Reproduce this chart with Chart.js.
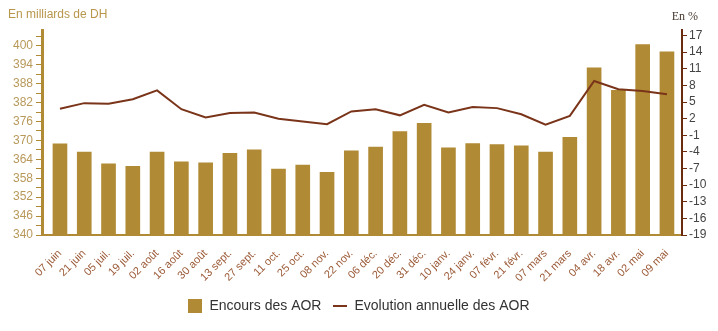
<!DOCTYPE html>
<html>
<head>
<meta charset="utf-8">
<script src="https://cdn.jsdelivr.net/npm/chart.js@4"></script>
<style>
  body { margin: 0; background: #fff; }
  #wrap { width: 718px; height: 331px; position: relative; }
</style>
</head>
<body>
<div id="wrap"><canvas id="chartAor"></canvas></div>
<script>
// Données
const categories = ['07 juin', '21 juin', '05 juil.', '19 juil.', '02 août', '16 août', '30 août',
  '13 sept.', '27 sept.', '11 oct.', '25 oct.', '08 nov.', '22 nov.', '06 déc.', '20 déc.',
  '31 déc.', '10 janv.', '24 janv.', '07 févr.', '21 févr.', '07 mars', '21 mars', '04 avr.',
  '18 avr.', '02 mai', '09 mai'];
const encours = [368.9, 366.3, 362.6, 361.8, 366.3, 363.2, 362.9, 365.9, 367.0, 360.9, 362.2,
  359.9, 366.7, 367.9, 372.8, 375.4, 367.6, 369.0, 368.7, 368.3, 366.3, 371.0, 393.0, 385.9,
  400.4, 398.1];
const evolution = [3.8, 4.8, 4.7, 5.5, 7.1, 3.7, 2.2, 3.0, 3.1, 2.0, 1.5, 1.0, 3.3, 3.7, 2.6,
  4.5, 3.1, 4.1, 3.9, 2.8, 0.9, 2.5, 8.8, 7.3, 7.0, 6.4];
const leftTicks = [340, 346, 352, 358, 364, 370, 376, 382, 388, 394, 400];
const rightTicks = [-19, -16, -13, -10, -7, -4, -1, 2, 5, 8, 11, 14, 17];
const leftTitle = 'En milliards de DH';
const rightTitle = 'En %';
const serieNames = ['Encours des AOR', 'Evolution annuelle des AOR'];

// Couleurs
const gold = '#b08a34';
const brown = '#7a3419';
const axisBrown = '#6b2b0f';

// petit carré / trait pour la légende
function swatch(w, h, color) {
  const c = document.createElement('canvas');
  c.width = w; c.height = h;
  const g = c.getContext('2d');
  g.fillStyle = color;
  g.fillRect(0, 0, w, h);
  return c;
}

// titres des deux axes en haut
const axisTitles = {
  id: 'axisTitles',
  afterDraw(chart) {
    const ctx = chart.ctx;
    ctx.save();
    ctx.textBaseline = 'middle';
    ctx.font = '12px "Liberation Sans", Arial, sans-serif';
    ctx.fillStyle = '#b8964c';
    ctx.fillText(leftTitle, 8, 15);
    ctx.font = '12px "Liberation Serif", serif';
    ctx.fillStyle = '#4a3a30';
    ctx.textAlign = 'right';
    ctx.fillText(rightTitle, 698, 17);
    ctx.restore();
  }
};

const font = { family: '"Liberation Sans", Arial, sans-serif' };

new Chart(document.getElementById('chartAor'), {
  type: 'bar',
  data: {
    datasets: [{
      type: 'bar',
      label: serieNames[0],
      data: encours.map((v, i) => ({ x: i, y: v })),
      backgroundColor: gold,
      barThickness: 14,
      yAxisID: 'y',
      order: 1,
      pointStyle: swatch(14, 14, gold)
    }, {
      type: 'line',
      label: serieNames[1],
      data: evolution.map((v, i) => ({ x: i, y: v })),
      borderColor: brown,
      borderWidth: 2,
      pointRadius: 0,
      tension: 0,
      yAxisID: 'y1',
      order: 0,
      pointStyle: swatch(14, 2, brown)
    }]
  },
  options: {
    responsive: true,
    maintainAspectRatio: false,
    animation: false,
    layout: { padding: { top: 30, left: 0, right: 0, bottom: 8 } },
    plugins: {
      tooltip: { enabled: false },
      legend: {
        position: 'bottom',
        labels: {
          usePointStyle: true,
          color: '#333',
          padding: 12,
          font: { ...font, size: 14 },
          sort: (a, b) => a.datasetIndex - b.datasetIndex
        }
      }
    },
    scales: {
      x: {
        type: 'linear',
        offset: false,
        min: -0.74,
        max: 25.62,
        grid: { display: false },
        border: { display: true, color: gold, width: 2 },
        afterBuildTicks: s => { s.ticks = categories.map((c, i) => ({ value: i })); },
        afterFit: s => { s.height = 52; },
        ticks: {
          autoSkip: false,
          minRotation: 45,
          maxRotation: 45,
          padding: 4,
          color: '#9b5a37',
          font: { ...font, size: 11 },
          callback: v => categories[v]
        }
      },
      y: {
        position: 'left',
        min: 340,
        max: 405,
        afterBuildTicks: s => { s.ticks = leftTicks.flatMap(v => [{ value: v }, { value: v + 3 }]); },
        afterFit: s => { s.width = 42; },
        grid: { drawOnChartArea: false, color: gold, tickLength: 6 },
        border: { display: true, color: gold, width: 3 },
        ticks: {
          autoSkip: false,
          padding: 3,
          color: '#b8995a',
          font: { ...font, size: 12 },
          callback: v => leftTicks.includes(v) ? String(v) : ''
        }
      },
      y1: {
        position: 'right',
        min: -19,
        max: 18,
        afterBuildTicks: s => { s.ticks = rightTicks.map(v => ({ value: v })); },
        afterFit: s => { s.width = 36; },
        grid: { drawOnChartArea: false, color: axisBrown, tickLength: 5 },
        border: { display: true, color: axisBrown, width: 2 },
        ticks: {
          autoSkip: false,
          padding: 2,
          color: '#444',
          font: { ...font, size: 12 },
          callback: v => String(v)
        }
      }
    }
  },
  plugins: [axisTitles]
});
</script>
</body>
</html>
